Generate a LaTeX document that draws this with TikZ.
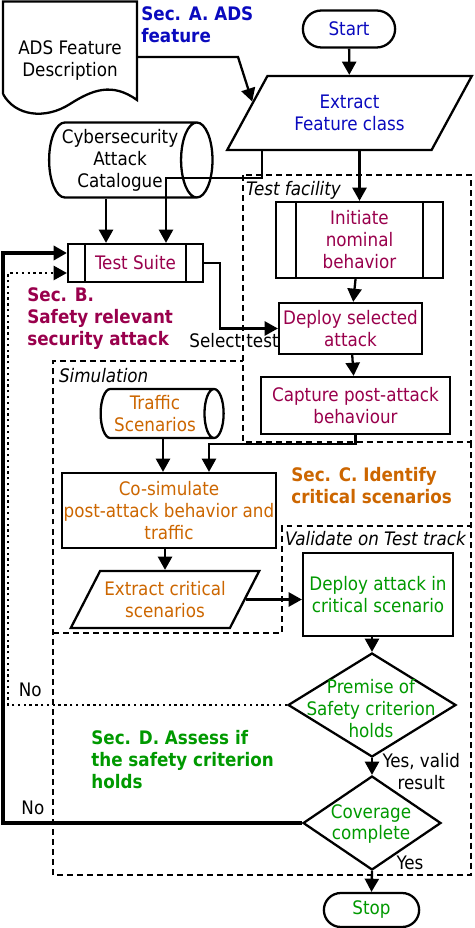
\documentclass[tikz,border=0pt]{standalone}
\usepackage{fontspec}
\setmainfont{DejaVu Sans Condensed}
\usepackage{xcolor}
\usetikzlibrary{shapes.geometric,shapes.misc,arrows.meta,calc}
\definecolor{adsblue}{RGB}{10, 10, 190}
\definecolor{attackmagenta}{RGB}{153, 0, 76}
\definecolor{simorange}{RGB}{204, 102, 0}
\definecolor{trackgreen}{RGB}{0, 153, 0}

\begin{document}
\begin{tikzpicture}[
        x=0.02cm, y=-0.02cm,
        font=\fontsize{10.6}{12.5}\selectfont,
        box/.style={rectangle, draw, line width=1.3pt, align=center, inner sep=1pt},
        subproc/.style={box, path picture={
            \draw[line width=1.3pt] ([xshift=#1]path picture bounding box.north west) -- ([xshift=#1]path picture bounding box.south west);
            \draw[line width=1.3pt] ([xshift=-#1]path picture bounding box.north east) -- ([xshift=-#1]path picture bounding box.south east);}},
        terminal/.style={rounded rectangle, draw, line width=1.3pt, align=center},
        io/.style={trapezium, trapezium left angle=53, trapezium right angle=127, trapezium stretches=true, draw, line width=1.3pt, align=center, inner sep=0pt},
        store/.style={cylinder, draw, line width=1.3pt, align=center, inner sep=1pt},
        decision/.style={diamond, draw, line width=1.3pt, inner sep=0pt},
        flow/.style={-{Triangle[length=7.5pt, width=8pt]}, line width=1.3pt},
        region/.style={line width=1.2pt, dash pattern=on 3.4pt off 2.3pt},
        regionlabel/.style={font=\fontsize{10.6}{12}\selectfont\itshape, anchor=north west, inner sep=1pt},
        section/.style={font=\fontsize{10.6}{12.5}\selectfont\bfseries, align=left, anchor=west, inner sep=0pt}
    ]
    \useasboundingbox (0,0) rectangle (474,928);

    % Regions
    \draw[region] (243,175) rectangle (471,442);
    \draw[region] (53,875) -- (53,361) -- (243,361);
    \draw[region] (53,633) -- (282,633) -- (282,526) -- (471,526);
    \draw[region] (471,442) -- (471,875) -- (53,875);
    \node[regionlabel] (facilitylbl) at (244,179) {Test facility};
    \node[regionlabel] (simlbl) at (57,366) {Simulation};
    \node[regionlabel] (tracklbl) at (283,529) {Validate on Test track};

    % Sec. A: ADS feature
    \node[align=center, minimum width=2.68cm, minimum height=1.2cm] (desc) at (70,61) {ADS Feature\\Description};
    \draw[line width=1.3pt] (3,94) -- (3,1.5) -- (137,1.5) -- (137,100)
        .. controls (112,82) and (92,90) .. (70,104) .. controls (45,120) and (15,116) .. (3,94);
    \node[terminal, text=adsblue, minimum width=2.08cm, minimum height=0.74cm] (start) at (349,29) {Start};
    \node[io, text=adsblue, minimum width=4.9cm, minimum height=1.48cm] (extract) at (349.5,113) {Extract\\Feature class};
    \node[section, text=adsblue] (secA) at (141,25) {Sec. A. ADS\\feature};

    % Sec. B: safety relevant security attack
    \node[store, text=black, aspect=0.48, minimum height=3.18cm, minimum width=1.5cm] (catalog) at (120,160) {Cybersecurity\\Attack\\Catalogue};
    \node[subproc=0.34cm, text=attackmagenta, minimum width=2.7cm, minimum height=0.76cm] (suite) at (135.5,263) {Test Suite};
    \node[subproc=0.4cm, text=attackmagenta, minimum width=3.34cm, minimum height=1.52cm] (initiate) at (359.5,240) {Initiate\\nominal\\behavior};
    \node[box, text=attackmagenta, minimum width=2.86cm, minimum height=1.02cm] (deploy) at (350.5,328.5) {Deploy selected\\attack};
    \node[box, text=attackmagenta, minimum width=3.78cm, minimum height=1.14cm] (capture) at (355.5,405.5) {Capture post-attack\\behaviour};
    \node[section, text=attackmagenta] (secB) at (27,319) {Sec. B.\\Safety relevant\\security attack};

    % Sec. C: critical scenarios
    \node[store, text=simorange, aspect=0.48, minimum height=2.46cm, minimum width=0.98cm] (traffic) at (155,413.5) {Traffic\\Scenarios};
    \node[box, text=simorange, minimum width=4.28cm, minimum height=1.5cm] (cosim) at (169,510.5) {Co-simulate\\post-attack behavior and\\traffic};
    \node[io, text=simorange, minimum width=3.8cm, minimum height=1.14cm] (critical) at (165,599.5) {Extract critical\\scenarios};
    \node[section, text=simorange] (secC) at (291,486) {Sec. C. Identify\\critical scenarios};

    % Sec. D: safety criterion
    \node[box, text=trackgreen, minimum width=3.0cm, minimum height=1.66cm] (deployatk) at (378,594.5) {Deploy attack in\\critical scenario};
    \node[decision, minimum width=3.36cm, minimum height=2.08cm] (premise) at (372,705) {};
    \node[text=trackgreen, align=center, inner sep=0pt] (premisetxt) at (371,709) {Premise of\\Safety criterion\\holds};
    \node[decision, minimum width=2.76cm, minimum height=1.88cm] (coverage) at (372,823) {};
    \node[text=trackgreen, align=center, inner sep=0pt] (coveragetxt) at (371,824) {Coverage\\complete};
    \node[terminal, text=trackgreen, minimum width=2.14cm, minimum height=0.68cm] (stop) at (371.5,910) {Stop};
    \node[section, text=trackgreen] (secD) at (91,760) {Sec. D. Assess if\\the safety criterion\\holds};

    % Flows
    \draw[flow] (start) -- (extract);
    \draw[flow] ([yshift=0.08cm]desc.east) -- (238,57) -- ($(extract.bottom left corner)!0.65!(extract.top left corner)$);
    \draw[flow] ([xshift=-1.75cm]extract.south) -- ++(0,27) -| ([xshift=0.61cm]suite.north);
    \draw[flow] (extract.south -| initiate.north) -- (initiate.north);
    \draw[flow] ([xshift=-0.28cm]catalog.south) -- ([xshift=-0.28cm]catalog.south |- suite.north);
    \draw[flow] (suite.east) -- ++(16,0) |- node[pos=0.62, below, inner sep=2pt] {Select test} (deploy.west);
    \draw[flow] (initiate) -- (deploy);
    \draw[flow] (deploy) -- (capture);
    \draw[flow] (capture.south) -- ++(0,9) -| ([xshift=0.8cm]cosim.north);
    \draw[flow] ([xshift=0.16cm]traffic.south) -- ([xshift=0.16cm]traffic.south |- cosim.north);
    \draw[flow] (critical.north |- cosim.south) -- (critical.north);
    \draw[flow] (critical.east) -- (critical.east -| deployatk.west);
    \draw[flow] (premise.north |- deployatk.south) -- (premise.north);
    \draw[flow] (premise.south) -- node[anchor=west, xshift=2pt, yshift=-3pt, align=center] {Yes, valid\\result} (coverage.north);
    \draw[flow] (coverage.south) -- node[pos=0, anchor=south west, xshift=10pt, yshift=-3pt] {Yes} (stop.north);

    % Feedback loops
    \draw[flow, dotted] (premise.west) -- node[pos=0.92, above, inner sep=4pt] {No} (8,705) |- ([yshift=-0.2cm]suite.west);
    \draw[flow, line width=1.8pt] (coverage.west) -- node[pos=0.9, above, inner sep=4pt] {No} (3,823) |- ([yshift=0.2cm]suite.west);

\end{tikzpicture}
\end{document}
